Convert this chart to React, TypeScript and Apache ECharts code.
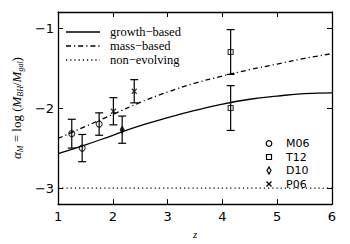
import React, { useEffect, useRef } from "react";
import * as echarts from "echarts";

const zGrid = [1, 1.5, 2, 2.5, 3, 3.5, 4, 4.5, 5, 5.5, 6];
const growthBased = [-2.57, -2.46, -2.34, -2.22, -2.12, -2.03, -1.95, -1.89, -1.85, -1.82, -1.81];
const massBased = [-2.38, -2.23, -2.08, -1.93, -1.8, -1.69, -1.6, -1.52, -1.45, -1.38, -1.32];
const nonEvolvingZ = [1, 6];
const nonEvolving = [-3, -3];

// [z, alpha, error]
const M06 = [[1.25, -2.32, 0.18], [1.44, -2.5, 0.17], [1.75, -2.2, 0.14]];
const T12 = [[4.15, -1.3, 0.28], [4.15, -2.0, 0.28]];
const D10 = [[2.17, -2.27, 0.17]];
const P06 = [[2.01, -2.04, 0.17], [2.39, -1.79, 0.145]];

const xTicks = [1, 2, 3, 4, 5, 6];
const yTicks = [-3, -2, -1];

const lineNames = ["growth\u2212based", "mass\u2212based", "non\u2212evolving"];
const pointNames = ["M06", "T12", "D10", "P06"];

const crossPath = "path://M0,0L10,10M10,0L0,10";
const serif = "'Liberation Serif', 'DejaVu Serif', serif";
const sans = "'DejaVu Sans', sans-serif";

export default function App() {
  const ref = useRef<HTMLDivElement>(null);
  useEffect(() => {
    const chart = echarts.init(ref.current!, null, { renderer: "svg" });
    const allErr = [...M06, ...T12, ...D10, ...P06];
    const markerStyle = { color: "rgba(0,0,0,0)", borderColor: "#000", borderWidth: 1.1 };
    const axisCommon = {
      axisLine: { show: true, lineStyle: { color: "#000", width: 1.3 } },
      axisTick: { show: true, inside: true, length: 5, lineStyle: { color: "#000", width: 1 } },
      splitLine: { show: false },
    };
    const legendX1 = 66, legendX2 = 100, legendTextX = 110;
    const legendRows = [32, 46, 60];
    const dashes: any[] = [null, [5, 3, 1.2, 3], [1.2, 3]];
    const mLegX = 269, mTextX = 286;
    const mRows = [143.5, 157, 170.5, 184];
    chart.setOption({
      animation: false,
      grid: { left: 52, right: 18, top: 12, bottom: 37 },
      xAxis: [
        {
          type: "value", min: 1, max: 6, interval: 1, position: "bottom",
          ...axisCommon,
          axisLabel: { color: "#000", fontSize: 13, fontFamily: sans, margin: 6 },
          name: "z", nameLocation: "middle", nameGap: 20,
          nameTextStyle: { fontFamily: serif, fontStyle: "italic", fontSize: 11, color: "#000" },
        },
        {
          type: "value", min: 1, max: 6, interval: 1, position: "top",
          ...axisCommon, axisLabel: { show: false },
        },
      ],
      yAxis: [
        {
          type: "value", min: -3.2, max: -0.8, position: "left",
          ...axisCommon,
          axisTick: { ...axisCommon.axisTick, customValues: yTicks },
          axisLabel: {
            color: "#000", fontSize: 13, fontFamily: sans, margin: 4, customValues: yTicks,
            formatter: (v: number) => (v < 0 ? "\u2212" + Math.abs(v) : String(v)),
          },
          name: "{i|\u03b1}{s|M} = log ({i|M}{s|BH}/{i|M}{s|gal})",
          nameLocation: "middle", nameRotate: 90, nameGap: 33,
          nameTextStyle: {
            fontFamily: serif, fontSize: 13, color: "#000", lineHeight: 16,
            rich: {
              i: { fontFamily: serif, fontStyle: "italic", fontSize: 13, color: "#000", lineHeight: 16 },
              s: { fontFamily: serif, fontStyle: "italic", fontSize: 8, color: "#000", verticalAlign: "bottom", lineHeight: 16 },
            },
          },
        },
        {
          type: "value", min: -3.2, max: -0.8, position: "right",
          ...axisCommon,
          axisTick: { ...axisCommon.axisTick, customValues: yTicks },
          axisLabel: { show: false },
        },
      ],
      series: [
        {
          name: lineNames[0], type: "line", smooth: true, symbol: "none",
          data: zGrid.map((z, i) => [z, growthBased[i]]),
          lineStyle: { color: "#000", width: 1.3 },
        },
        {
          name: lineNames[1], type: "line", smooth: true, symbol: "none",
          data: zGrid.map((z, i) => [z, massBased[i]]),
          lineStyle: { color: "#000", width: 1.3, type: dashes[1] },
        },
        {
          name: lineNames[2], type: "line", symbol: "none",
          data: nonEvolvingZ.map((z, i) => [z, nonEvolving[i]]),
          lineStyle: { color: "#000", width: 1.3, type: dashes[2] },
        },
        {
          type: "custom",
          data: allErr,
          z: 5,
          renderItem: (params: any, api: any) => {
            const x = api.value(0), y = api.value(1), e = api.value(2);
            const t = api.coord([x, y + e]);
            const b = api.coord([x, y - e]);
            const st = { stroke: "#000", lineWidth: 1.2 };
            return {
              type: "group",
              children: [
                { type: "line", shape: { x1: t[0], y1: t[1], x2: b[0], y2: b[1] }, style: st },
                { type: "line", shape: { x1: t[0] - 4, y1: t[1], x2: t[0] + 4, y2: t[1] }, style: st },
                { type: "line", shape: { x1: b[0] - 4, y1: b[1], x2: b[0] + 4, y2: b[1] }, style: st },
              ],
            };
          },
        },
        { name: "M06", type: "scatter", symbol: "circle", symbolSize: 6, data: M06.map((d) => [d[0], d[1]]), itemStyle: markerStyle, z: 6 },
        { name: "T12", type: "scatter", symbol: "rect", symbolSize: 5, data: T12.map((d) => [d[0], d[1]]), itemStyle: markerStyle, z: 6 },
        { name: "D10", type: "scatter", symbol: "diamond", symbolSize: [4, 7], data: D10.map((d) => [d[0], d[1]]), itemStyle: { ...markerStyle, color: "#000" }, z: 6 },
        { name: "P06", type: "scatter", symbol: crossPath, symbolSize: 5, data: P06.map((d) => [d[0], d[1]]), itemStyle: { ...markerStyle, borderWidth: 1.2 }, z: 6 },
      ],
      graphic: [
        ...lineNames.map((n, i) => ({
          type: "line",
          shape: { x1: legendX1, y1: legendRows[i], x2: legendX2, y2: legendRows[i] },
          style: { stroke: "#000", lineWidth: 1.3, lineDash: dashes[i] || null },
        })),
        ...lineNames.map((n, i) => ({
          type: "text", x: legendTextX, y: legendRows[i],
          style: { text: n, fill: "#000", font: `12.5px ${serif}`, lineHeight: 13, textVerticalAlign: "middle", verticalAlign: "middle" },
        })),
        { type: "circle", shape: { cx: mLegX, cy: mRows[0], r: 2.8 }, style: { fill: "none", stroke: "#000", lineWidth: 1.2 } },
        { type: "rect", shape: { x: mLegX - 2.5, y: mRows[1] - 2.5, width: 5, height: 5 }, style: { fill: "none", stroke: "#000", lineWidth: 1.2 } },
        { type: "polygon", shape: { points: [[mLegX, mRows[2] - 3.5], [mLegX + 2, mRows[2]], [mLegX, mRows[2] + 3.5], [mLegX - 2, mRows[2]]] }, style: { fill: "none", stroke: "#000", lineWidth: 1.2 } },
        { type: "line", shape: { x1: mLegX - 2.5, y1: mRows[3] - 2.5, x2: mLegX + 2.5, y2: mRows[3] + 2.5 }, style: { stroke: "#000", lineWidth: 1.2 } },
        { type: "line", shape: { x1: mLegX - 2.5, y1: mRows[3] + 2.5, x2: mLegX + 2.5, y2: mRows[3] - 2.5 }, style: { stroke: "#000", lineWidth: 1.2 } },
        ...pointNames.map((n, i) => ({
          type: "text", x: mTextX, y: mRows[i],
          style: { text: n, fill: "#000", font: `11px ${sans}`, lineHeight: 11, textVerticalAlign: "middle", verticalAlign: "middle" },
        })),
      ],
    });
    return () => chart.dispose();
  }, []);
  return <div ref={ref} style={{ position: "fixed", left: 0, top: 0, width: 350, height: 244, background: "#fff" }} />;
}
